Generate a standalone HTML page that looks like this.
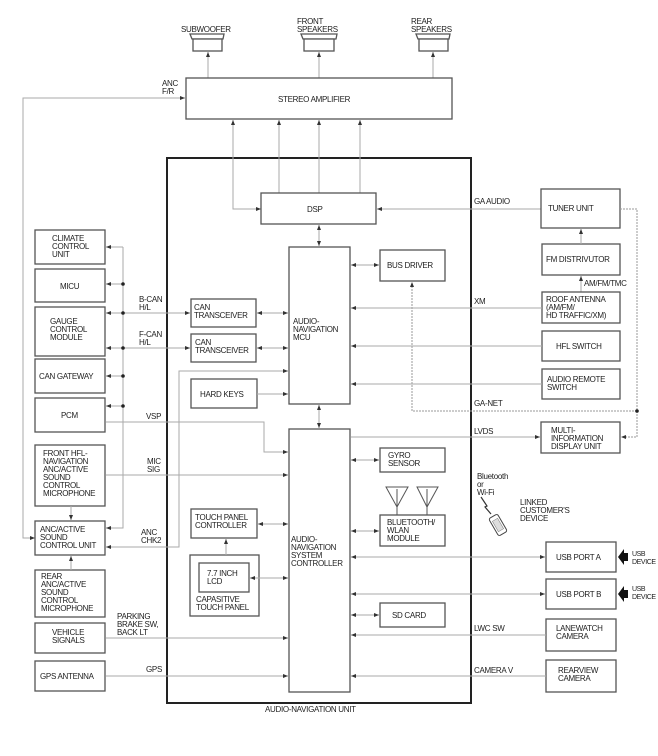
<!DOCTYPE html>
<html><head><meta charset="utf-8"><style>
html,body{margin:0;padding:0;background:#fff}
svg{display:block}
text{font-family:"Liberation Sans",sans-serif;font-size:8px;fill:#222;letter-spacing:-0.3px}
.b{fill:#fff;stroke:#555;stroke-width:1.3}
.l{fill:none;stroke:#aaa;stroke-width:1}
.w{fill:none;stroke:#999;stroke-width:1;stroke-dasharray:2 1}
.sm{font-size:7px;letter-spacing:-0.4px}
</style></head><body>
<svg width="658" height="756" viewBox="0 0 658 756" xmlns="http://www.w3.org/2000/svg">
<defs>
<marker id="a" markerWidth="6" markerHeight="6" refX="5" refY="3" orient="auto" markerUnits="userSpaceOnUse"><path d="M0,1 L5,3 L0,5z" fill="#333"/></marker>
<marker id="s" markerWidth="6" markerHeight="6" refX="0" refY="3" orient="auto" markerUnits="userSpaceOnUse"><path d="M5,1 L0,3 L5,5z" fill="#333"/></marker>
</defs>

<g class="b">
<path d="M190,34 L224,34 L223,39 L192,39 Z"/><rect x="193" y="39" width="29" height="12"/>
<path d="M301,34 L337,34 L336,39 L303,39 Z"/><rect x="304" y="39" width="30" height="12"/>
<path d="M416,34 L450,34 L449,39 L418,39 Z"/><rect x="419" y="39" width="29" height="12"/>
</g>
<text x="181" y="32">SUBWOOFER</text>
<text x="297" y="24">FRONT</text><text x="297" y="32">SPEAKERS</text>
<text x="411" y="24">REAR</text><text x="411" y="32">SPEAKERS</text>
<g class="l" marker-end="url(#a)">
<path d="M208,78 V52"/><path d="M319,78 V52"/><path d="M433,78 V52"/>
</g>

<rect class="b" x="186" y="78" width="266" height="41"/>
<text x="278" y="102">STEREO AMPLIFIER</text>
<text x="162" y="86">ANC</text><text x="162" y="94">F/R</text>
<path class="l" d="M35,538 H23 V98 H185" marker-start="url(#s)" marker-end="url(#a)"/>

<rect x="167" y="158" width="304" height="545" fill="none" stroke="#222" stroke-width="2"/>
<text x="265" y="712">AUDIO-NAVIGATION UNIT</text>

<g class="l" marker-end="url(#a)">
<path d="M279,193 V120"/><path d="M319,193 V120"/><path d="M360,193 V120"/>
</g>
<path class="l" d="M261,209 H233 V120" marker-start="url(#s)" marker-end="url(#a)"/>
<rect class="b" x="261" y="193" width="115" height="31"/>
<text x="307" y="212">DSP</text>
<path class="l" d="M319,225 V246" marker-start="url(#s)" marker-end="url(#a)"/>

<text x="474" y="204">GA AUDIO</text>
<path class="l" d="M541,209 H377" marker-end="url(#a)"/>
<rect class="b" x="541" y="189" width="79" height="39"/>
<text x="548" y="211">TUNER UNIT</text>
<path class="w" d="M620,209 H637 V437 H621" marker-end="url(#a)"/>

<g class="b">
<rect x="35" y="230" width="70" height="34"/>
<rect x="35" y="269" width="70" height="33"/>
<rect x="35" y="307" width="70" height="49"/>
<rect x="35" y="359" width="70" height="34"/>
<rect x="35" y="398" width="70" height="34"/>
<rect x="35" y="445" width="70" height="61"/>
<rect x="35" y="521" width="70" height="34"/>
<rect x="35" y="570" width="70" height="47"/>
<rect x="35" y="623" width="70" height="30"/>
<rect x="35" y="661" width="70" height="30"/>
</g>
<text x="52" y="241">CLIMATE</text><text x="52" y="249">CONTROL</text><text x="52" y="257">UNIT</text>
<text x="60" y="289">MICU</text>
<text x="50" y="324">GAUGE</text><text x="50" y="332">CONTROL</text><text x="50" y="340">MODULE</text>
<text x="39" y="379">CAN GATEWAY</text>
<text x="61" y="418">PCM</text>
<text x="43" y="456">FRONT HFL-</text><text x="43" y="464">NAVIGATION</text><text x="43" y="472">ANC/ACTIVE</text><text x="43" y="480">SOUND</text><text x="43" y="488">CONTROL</text><text x="43" y="496">MICROPHONE</text>
<text x="40" y="532">ANC/ACTIVE</text><text x="40" y="540">SOUND</text><text x="40" y="548">CONTROL UNIT</text>
<text x="41" y="579">REAR</text><text x="41" y="587">ANC/ACTIVE</text><text x="41" y="595">SOUND</text><text x="41" y="603">CONTROL</text><text x="41" y="611">MICROPHONE</text>
<text x="52" y="635">VEHICLE</text><text x="52" y="643">SIGNALS</text>
<text x="40" y="679">GPS ANTENNA</text>
<path class="l" d="M71,506 V520" marker-end="url(#a)"/>
<path class="l" d="M71,570 V556" marker-end="url(#a)"/>

<path class="l" d="M123,247 V528 H106" marker-end="url(#a)"/>
<g class="l" marker-end="url(#a)">
<path d="M123,247 H106"/><path d="M123,284 H106"/><path d="M123,313 H106"/><path d="M123,348 H106"/><path d="M123,376 H106"/><path d="M123,406 H106"/>
<path d="M123,313 H190"/><path d="M123,348 H190"/>
</g>
<g fill="#222"><circle cx="123" cy="284" r="1.8"/><circle cx="123" cy="313" r="1.8"/><circle cx="123" cy="348" r="1.8"/><circle cx="123" cy="376" r="1.8"/><circle cx="123" cy="406" r="1.8"/></g>
<text x="139" y="302">B-CAN</text><text x="139" y="310">H/L</text>
<text x="139" y="337">F-CAN</text><text x="139" y="345">H/L</text>
<rect class="b" x="191" y="299" width="65" height="28"/>
<rect class="b" x="191" y="334" width="65" height="28"/>
<text x="194" y="310">CAN</text><text x="194" y="318">TRANSCEIVER</text>
<text x="195" y="345">CAN</text><text x="195" y="353">TRANSCEIVER</text>
<g class="l" marker-start="url(#s)" marker-end="url(#a)">
<path d="M257,313 H288"/><path d="M257,348 H288"/>
</g>
<path class="l" d="M106,547 H179 V371 H288" marker-start="url(#s)" marker-end="url(#a)"/>
<text x="141" y="535">ANC</text><text x="141" y="543">CHK2</text>
<rect class="b" x="191" y="379" width="66" height="29"/>
<text x="200" y="397">HARD KEYS</text>
<path class="l" d="M257,394 H288" marker-end="url(#a)"/>

<rect class="b" x="289" y="247" width="61" height="157"/>
<text x="293" y="324">AUDIO-</text><text x="293" y="332">NAVIGATION</text><text x="293" y="340">MCU</text>
<path class="l" d="M319,405 V428" marker-start="url(#s)" marker-end="url(#a)"/>
<rect class="b" x="380" y="250" width="65" height="31"/>
<text x="387" y="268">BUS DRIVER</text>
<path class="l" d="M351,265 H379" marker-start="url(#s)" marker-end="url(#a)"/>
<path class="w" d="M637,411 H412 V282" marker-end="url(#a)"/>
<circle cx="637" cy="411" r="1.8" fill="#222"/>
<text x="474" y="406">GA-NET</text>

<rect class="b" x="542" y="244" width="78" height="31"/>
<text x="546" y="262">FM DISTRIVUTOR</text>
<path class="l" d="M581,244 V229" marker-end="url(#a)"/>
<path class="l" d="M581,292 V276" marker-end="url(#a)"/>
<text x="584" y="286">AM/FM/TMC</text>
<rect class="b" x="542" y="292" width="78" height="31"/>
<text x="546" y="302">ROOF ANTENNA</text><text x="546" y="310">(AM/FM/</text><text x="546" y="318">HD TRAFFIC/XM)</text>
<text x="474" y="304">XM</text>
<path class="l" d="M542,308 H351" marker-end="url(#a)"/>
<rect class="b" x="542" y="331" width="78" height="30"/>
<text x="556" y="349">HFL SWITCH</text>
<path class="l" d="M542,346 H351" marker-end="url(#a)"/>
<rect class="b" x="542" y="369" width="78" height="30"/>
<text x="547" y="382">AUDIO REMOTE</text><text x="547" y="390">SWITCH</text>
<path class="l" d="M542,384 H351" marker-end="url(#a)"/>

<rect class="b" x="541" y="422" width="79" height="31"/>
<text x="551" y="433">MULTI-</text><text x="551" y="441">INFORMATION</text><text x="551" y="449">DISPLAY UNIT</text>
<text x="474" y="434">LVDS</text>
<path class="l" d="M351,437 H540" marker-end="url(#a)"/>

<rect class="b" x="289" y="429" width="61" height="263"/>
<text x="291" y="542">AUDIO-</text><text x="291" y="550">NAVIGATION</text><text x="291" y="558">SYSTEM</text><text x="291" y="566">CONTROLLER</text>
<text x="146" y="419">VSP</text>
<path class="l" d="M106,422 H264 V452 H288" marker-end="url(#a)"/>
<text x="147" y="464">MIC</text><text x="147" y="472">SIG</text>
<path class="l" d="M106,475 H288" marker-end="url(#a)"/>
<text x="117" y="619">PARKING</text><text x="117" y="627">BRAKE SW,</text><text x="117" y="635">BACK LT</text>
<path class="l" d="M106,638 H288" marker-end="url(#a)"/>
<text x="146" y="672">GPS</text>
<path class="l" d="M106,676 H288" marker-end="url(#a)"/>

<rect class="b" x="191" y="509" width="66" height="29"/>
<text x="195" y="520">TOUCH PANEL</text><text x="195" y="528">CONTROLLER</text>
<path class="l" d="M258,524 H288" marker-start="url(#s)" marker-end="url(#a)"/>
<rect class="b" x="190" y="555" width="69" height="61"/>
<rect class="b" x="199" y="563" width="50" height="29"/>
<text x="207" y="576">7.7 INCH</text><text x="207" y="584">LCD</text>
<text x="196" y="602">CAPASITIVE</text><text x="196" y="610">TOUCH PANEL</text>
<path class="l" d="M226,555 V539" marker-end="url(#a)"/>
<path class="l" d="M250,578 H288" marker-start="url(#s)" marker-end="url(#a)"/>

<rect class="b" x="380" y="448" width="65" height="24"/>
<text x="388" y="458">GYRO</text><text x="388" y="466">SENSOR</text>
<path class="l" d="M351,460 H379" marker-start="url(#s)" marker-end="url(#a)"/>

<g fill="#fff" stroke="#555" stroke-width="1">
<path d="M386,487 L408,487 L397,507 Z"/><path d="M417,487 L438,487 L427,507 Z"/>
<path d="M397,489 V515 M427,489 V515"/>
</g>
<rect class="b" x="380" y="515" width="65" height="31"/>
<text x="387" y="525">BLUETOOTH/</text><text x="387" y="533">WLAN</text><text x="387" y="541">MODULE</text>
<path class="l" d="M351,531 H379" marker-start="url(#s)" marker-end="url(#a)"/>

<text x="477" y="479">Bluetooth</text><text x="477" y="487">or</text><text x="477" y="495">Wi-Fi</text>
<text x="520" y="505">LINKED</text><text x="520" y="513">CUSTOMER'S</text><text x="520" y="521">DEVICE</text>
<path d="M481,497 L487,506 L485,507 L491,514" fill="none" stroke="#333" stroke-width="1.2"/>
<g transform="translate(498,525) rotate(-30)"><rect x="-5" y="-10" width="10" height="20" rx="2" fill="#fff" stroke="#444"/><rect x="-3" y="-6" width="6" height="12" fill="#ddd" stroke="#777" stroke-width="0.5"/></g>

<rect class="b" x="546" y="542" width="70" height="30"/>
<text x="556" y="560">USB PORT A</text>
<path class="l" d="M351,557 H545" marker-start="url(#s)" marker-end="url(#a)"/>
<rect class="b" x="546" y="579" width="70" height="30"/>
<text x="556" y="597">USB PORT B</text>
<path class="l" d="M351,594 H545" marker-start="url(#s)" marker-end="url(#a)"/>
<path d="M618,557 L624,549 V553 H628 V561 H624 V565 Z" fill="#111"/>
<path d="M618,594 L624,586 V590 H628 V598 H624 V602 Z" fill="#111"/>
<text class="sm" x="632" y="556">USB</text><text class="sm" x="632" y="564">DEVICE</text>
<text class="sm" x="632" y="591">USB</text><text class="sm" x="632" y="599">DEVICE</text>

<rect class="b" x="380" y="603" width="65" height="24"/>
<text x="392" y="618">SD CARD</text>
<path class="l" d="M351,615 H379" marker-start="url(#s)" marker-end="url(#a)"/>

<text x="474" y="631">LWC SW</text>
<rect class="b" x="546" y="619" width="70" height="32"/>
<text x="556" y="631">LANEWATCH</text><text x="556" y="639">CAMERA</text>
<path class="l" d="M546,635 H351" marker-end="url(#a)"/>
<text x="474" y="673">CAMERA V</text>
<rect class="b" x="546" y="660" width="70" height="32"/>
<text x="558" y="673">REARVIEW</text><text x="558" y="681">CAMERA</text>
<path class="l" d="M546,676 H351" marker-end="url(#a)"/>
</svg>
</body></html>
